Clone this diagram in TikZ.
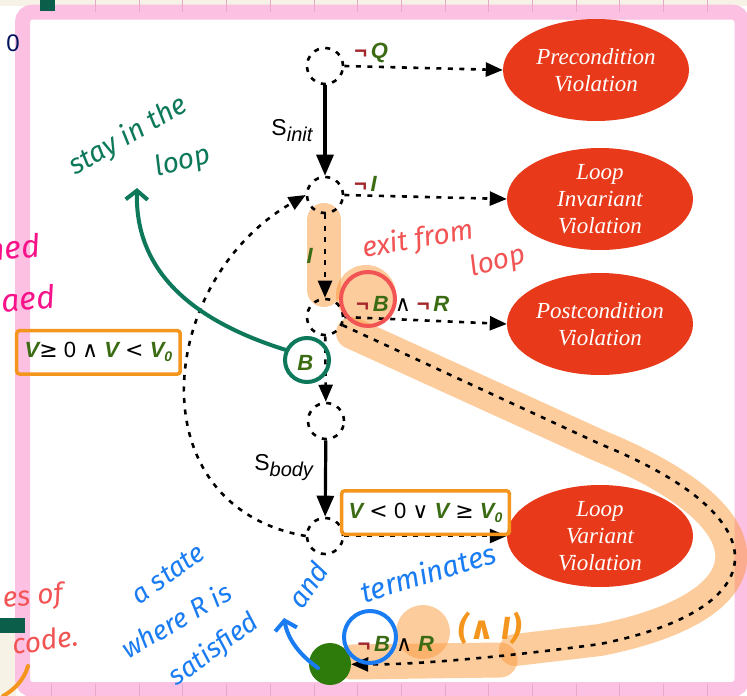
\documentclass[tikz,border=0pt]{standalone}
\usepackage{fontspec}
\setmainfont{Liberation Serif}
\newfontfamily\lblfont{Liberation Sans}
\newfontfamily\symfont{DejaVu Sans}
\newfontfamily\handfont{Fira Sans}
\usetikzlibrary{arrows.meta,shapes.geometric}

\definecolor{lblgreen}{HTML}{3B6B12}
\definecolor{negred}{HTML}{A3262A}
\definecolor{ellred}{HTML}{E83A1B}
\definecolor{hlorange}{HTML}{FB9A3C}
\definecolor{penred}{HTML}{F25454}
\definecolor{pengreen}{HTML}{0E785A}
\definecolor{penblue}{HTML}{1A7CF2}
\definecolor{penorange}{HTML}{F4961E}
\definecolor{penpink}{HTML}{F7128A}
\definecolor{framepink}{HTML}{FBC0E2}
\definecolor{gridpink}{HTML}{E9A8C6}
\definecolor{beige}{HTML}{F6F3E6}
\definecolor{donegreen}{HTML}{2E7B0C}
\definecolor{darkteal}{HTML}{0B5E4A}

\newcommand{\gv}[1]{\textcolor{lblgreen}{\bfseries\itshape #1}}
\newcommand{\negs}{\textcolor{negred}{\bfseries ¬}}
\newcommand{\symb}[1]{{\symfont #1}}
\newcommand{\vsub}[1]{\gv{V}\raisebox{-4pt}{\fontsize{14}{14}\selectfont\gv{#1}}}

\begin{document}
\begin{tikzpicture}[x=1pt, y=-1pt,
	loc/.style={circle, draw, dash pattern=on 5pt off 6.5pt, line width=2.6pt, minimum size=36pt, inner sep=0pt},
	viol/.style={ellipse, fill=ellred, text=white, minimum width=186pt, minimum height=102pt, inner sep=0pt, align=center, font=\fontsize{23}{27}\selectfont\itshape},
	dotarr/.style={dash pattern=on 5pt off 6.5pt, line width=2.6pt, -{Triangle[length=17pt,width=14pt]}},
	stmt/.style={line width=3.2pt, -{Triangle[length=21pt,width=17pt]}},
	lbl/.style={font=\lblfont\fontsize{22}{22}\selectfont, inner sep=1pt, solid},
	vbox/.style={draw=penorange, line width=3.5pt, solid, rounded corners=3pt},
	hl/.style={draw=hlorange, line width=32pt, line cap=round, opacity=.5},
	pen/.style={line width=4pt, line cap=round, line join=round},
	hand/.style={font=\handfont\itshape\fontsize{28}{28}\selectfont, inner sep=0pt}]
			\useasboundingbox (0,0) rectangle (747,696);
			\fill[white] (0,0) rectangle (747,696);
			\fill[beige] (0,0) rectangle (747,6);
			\fill[beige] (0,633) rectangle (16,696);
			\draw[framepink, line width=15pt, rounded corners=10pt] (22.5,12) rectangle (742,689.5);
			\foreach \k in {1,...,16} {
				\draw[gridpink, line width=.8pt] (8+43.7*\k,0) -- (8+43.7*\k,12);
				\draw[gridpink, line width=.8pt] (8+43.7*\k,684) -- (8+43.7*\k,696);
			}
			\fill[darkteal] (40,0) rectangle (55,11);
			\fill[darkteal] (0,618) rectangle (25,633);
			\node[font=\lblfont\fontsize{24}{24}\selectfont, text=darkteal!40!blue!50!black] (ZERO) at (13,43) {0};

			\draw[hl, line width=34pt] (324,220) -- (324,290);
			\fill[hlorange, opacity=.5] (366,295) circle (30);
			\draw[hl] (352,333) -- (600,446) .. controls (780,520) and (770,606) .. (600,640) -- (515,650);
			\draw[hl, line width=35pt] (352,662) -- (500,660);
			\fill[hlorange, opacity=.5] (423,632) circle (27);

			\node[loc] (C1) at (325,66) {};
			\node[loc] (C2) at (325,195) {};
			\node[loc] (C3) at (325,317) {};
			\node[loc] (C4) at (326,421) {};
			\node[loc] (C5) at (325,536) {};
			\node[viol] (PRE) at (596,70) {Precondition\\Violation};
			\node[viol] (INV) at (600,199) {Loop\\Invariant\\Violation};
			\node[viol] (POST) at (600,324) {Postcondition\\Violation};
			\node[viol] (VAR) at (600,536) {Loop\\Variant\\Violation};
			\node[circle, fill=donegreen, minimum size=42pt] (END) at (330,664) {};

			\draw[stmt] (C1) -- node[left=10pt, lbl, font=\lblfont\fontsize{23}{23}\selectfont]{S\raisebox{-6pt}{\fontsize{20}{20}\selectfont\itshape init}} (C2);
			\draw[dotarr] (C2) -- node[left=10pt, lbl]{\gv{I}} (C3);
			\draw[dotarr] (C3) -- node[pos=.4, left=10pt, lbl]{\gv{B}} (C4);
			\draw[stmt] (C4) -- node[pos=.35, left=10pt, lbl, font=\lblfont\fontsize{23}{23}\selectfont]{S\raisebox{-6pt}{\fontsize{20}{20}\selectfont\itshape body}} (C5);
			\draw[dotarr] (C5.west) to[out=170, in=210, looseness=1.3]
			node[pos=.58, left=8pt, lbl, vbox, inner xsep=8pt, inner ysep=12pt]{\gv{V}\symb{≥} 0 \symb{∧} \gv{V} \symb{<} \vsub{0}} (C2.west);

			\draw[dotarr] (C1.east) -- node[pos=.17, above=2pt, lbl]{\negs\,\gv{Q}} (PRE.west);
			\draw[dotarr] (C2.east) -- node[pos=.13, above=2pt, lbl]{\negs\,\gv{I}} (INV.west);
			\draw[dotarr] (C3.east) -- node[pos=.36, above=6pt, lbl]{\negs\,\gv{B} \symb{∧} \negs\,\gv{R}} (POST.west);
			\draw[dotarr] (C5.east) -- node[above=0pt, lbl, vbox, inner xsep=7pt, inner ysep=12pt]{\gv{V} \symb{<} 0 \symb{∨} \gv{V} \symb{≥} \vsub{0}} (VAR.west);

			\coordinate (K1) at (600,444);
			\coordinate (K2) at (600,644);
			\draw[dotarr] (C3.-25) -- (K1) .. controls (785,519) and (775,609) .. (K2)
			.. controls (520,655) and (420,665) .. node[pos=.8, above=10pt, lbl]{\negs\,\gv{B} \symb{∧} \gv{R}} (END);

			\draw[pen, penred] (368,299) circle (27);
			\node[hand, text=penred, rotate=10] (EXIT) at (418,240) {exit from};
			\node[hand, text=penred, rotate=15] (EXIT2) at (498,262) {loop};

			\draw[pen, pengreen] (307,360) circle (22);
			\draw[pen, pengreen, -{Straight Barb[length=9pt,width=22pt]}] (286,350) .. controls (190,320) and (135,270) .. (137,188);
			\node[hand, text=pengreen, rotate=30] (STAY) at (128,136) {stay in the};
			\node[hand, text=pengreen, rotate=15] (STAY2) at (183,162) {loop};

			\draw[pen, penblue] (370,637) circle (26);
			\draw[pen, penblue, -{Straight Barb[length=9pt,width=22pt]}] (318,668) .. controls (300,655) and (288,640) .. (284,618);
			\node[hand, text=penblue, rotate=36, font=\handfont\itshape\fontsize{27}{27}\selectfont] (ST1) at (168,574) {a state};
			\node[hand, text=penblue, rotate=30, font=\handfont\itshape\fontsize{27}{27}\selectfont] (ST2) at (176,620) {where R is};
			\node[hand, text=penblue, rotate=36, font=\handfont\itshape\fontsize{27}{27}\selectfont] (ST3) at (214,650) {satisfied};
			\node[hand, text=penblue, rotate=55, font=\handfont\itshape\fontsize{28}{28}\selectfont] (ST4) at (308,585) {and};
			\node[hand, text=penblue, rotate=17, font=\handfont\itshape\fontsize{29}{29}\selectfont] (ST5) at (428,572) {terminates};

			\node[hand, text=penorange, font=\handfont\itshape\bfseries\fontsize{32}{32}\selectfont] (ANDI) at (490,628) {(\symb{∧} I)};
			\draw[pen, penorange] (3,696) .. controls (14,690) and (24,680) .. (28,666);

			\node[hand, text=penpink, anchor=east, rotate=5, font=\handfont\itshape\fontsize{32}{32}\selectfont] (PK1) at (40,245) {ned};
			\node[hand, text=penpink, anchor=east, rotate=5, font=\handfont\itshape\fontsize{32}{32}\selectfont] (PK2) at (55,296) {aed};
			\node[hand, text=penred, anchor=east, rotate=5] (CD1) at (63,595) {es of};
			\node[hand, text=penred, rotate=8] (CD2) at (45,640) {code.};
\end{tikzpicture}
\end{document}
